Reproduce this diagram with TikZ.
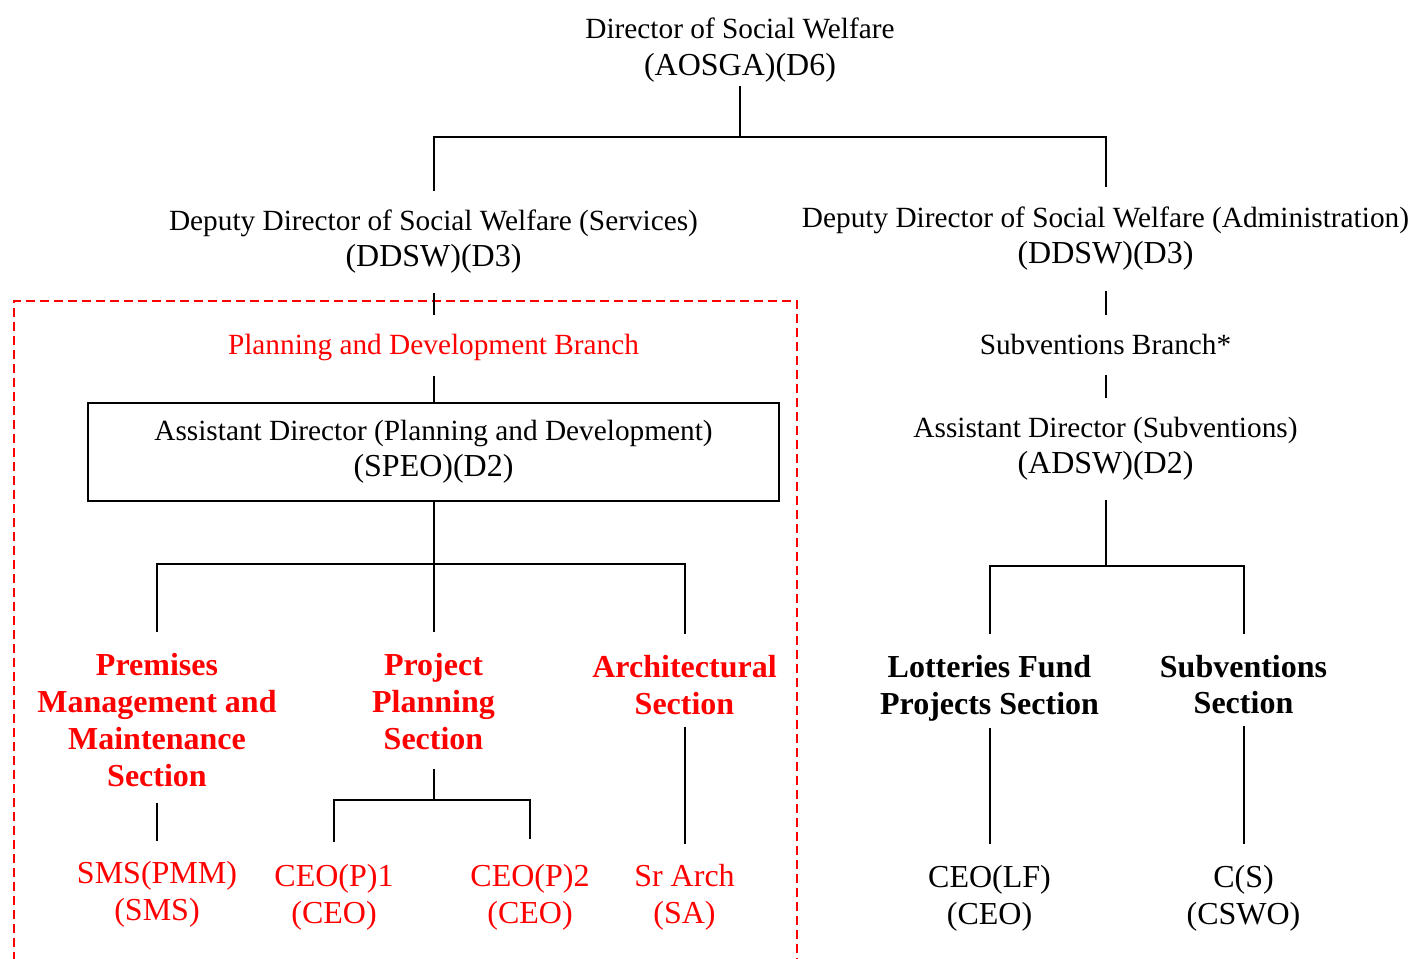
\documentclass[tikz,border=0pt]{standalone}
\usepackage{fontspec}
\setmainfont{Liberation Serif}
\newcommand\codesz{\fontsize{16pt}{18pt}\selectfont}
\begin{document}
\begin{tikzpicture}[x=0.5pt,y=-0.5pt, line width=1pt,
  txt/.style={inner sep=0pt, align=center, font=\fontsize{14.65pt}{18pt}\selectfont},
  rtxt/.style={txt, text=red},
  low/.style={inner sep=0pt, align=center, font=\fontsize{16pt}{18.5pt}\selectfont},
  rlow/.style={low, text=red},
  sec/.style={inner sep=0pt, align=center, font=\fontsize{16pt}{18.35pt}\selectfont\bfseries},
  rsec/.style={sec, text=red},
  frame/.style={draw=red, line width=1pt, dash pattern=on 4.5pt off 2.5pt},
  adbox/.style={txt, draw, line width=1pt, minimum width=345.5pt, minimum height=49pt}]
\useasboundingbox (0,0) rectangle (1411,958);
\draw[frame] (14,975) |- (797,301) -- (797,975);
% nodes
\node[txt, font=\fontsize{14.65pt}{18.5pt}\selectfont] (dir) at (740,50) {Director of Social Welfare\\{\fontsize{16pt}{18.5pt}\selectfont(AOSGA)(D6)}};
\node[txt] (dds) at (433.5,241.5) {Deputy Director of Social Welfare (Services)\\{\codesz(DDSW)(D3)}};
\node[txt] (dda) at (1105.5,238.5) {Deputy Director of Social Welfare (Administration)\\{\codesz(DDSW)(D3)}};
\node[rtxt] (pdb) at (433.5,347) {Planning and Development Branch};
\node[adbox] (adpd) at (433.5,452) {Assistant Director (Planning and Development)\\{\codesz(SPEO)(D2)}};
\node[txt] (subb) at (1105.5,344) {Subventions Branch*};
\node[txt] (ads) at (1105.5,449) {Assistant Director (Subventions)\\{\codesz(ADSW)(D2)}};
\node[rsec] (pmm) at (157,720) {Premises\\Management and\\Maintenance\\Section};
\node[rsec] (pps) at (433.5,701.5) {Project\\Planning\\Section};
\node[rsec] (arch) at (684.5,685) {Architectural\\Section};
\node[sec] (lfp) at (989.5,688) {Lotteries Fund\\Projects Section};
\node[sec] (subs) at (1243.5,684.5) {Subventions\\Section};
\node[rlow] (sms) at (157,894.5) {SMS(PMM)\\(SMS)};
\node[rlow] (ceo1) at (334,897.5) {CEO(P)1\\(CEO)};
\node[rlow] (ceo2) at (530,897) {CEO(P)2\\(CEO)};
\node[rlow] (sra) at (684.5,897.3) {Sr Arch\\(SA)};
\node[low] (ceolf) at (989.5,898) {CEO(LF)\\(CEO)};
\node[low] (cs) at (1243.5,898) {C(S)\\(CSWO)};
% bus points
\coordinate (b1) at (740,137);
\coordinate (b2) at (433.5,564);
\coordinate (b3) at (433.5,800);
\coordinate (b4) at (1105.5,566);
% connectors
\draw[shorten <=1.25pt] (dir.south) -- (b1);
\draw[shorten <=8.8pt] (dds.north) |- (b1);
\draw[shorten <=9.3pt] (dda.north) |- (b1);
\draw[shorten <=9.25pt, shorten >=8.8pt] (dds.south) -- (pdb.north);
\draw[shorten <=7.5pt] (pdb.south) -- (adpd.north);
\draw (adpd.south) -- (b2);
\draw[shorten <=10.25pt] (pmm.north) |- (b2);
\draw[shorten <=10.25pt] (arch.north) |- (b2);
\draw[shorten >=10.25pt] (b2) -- (pps.north);
\draw[shorten <=7.75pt, shorten >=9.8pt] (pmm.south) -- (sms.north);
\draw[shorten <=9.25pt] (pps.south) -- (b3);
\draw[shorten <=10.8pt] (ceo1.north) |- (b3);
\draw[shorten <=11.8pt] (ceo2.north) |- (b3);
\draw[shorten <=5.75pt, shorten >=9.8pt] (arch.south) -- (sra.north);
\draw[shorten <=9.75pt, shorten >=9pt] (dda.south) -- (subb.north);
\draw[shorten <=10pt, shorten >=9.3pt] (subb.south) -- (ads.north);
\draw[shorten <=9.25pt] (ads.south) -- (b4);
\draw[shorten <=10.25pt] (lfp.north) |- (b4);
\draw[shorten <=9.75pt] (subs.north) |- (b4);
\draw[shorten <=3.25pt, shorten >=9.8pt] (lfp.south) -- (ceolf.north);
\draw[shorten <=5.25pt, shorten >=9.8pt] (subs.south) -- (cs.north);
\end{tikzpicture}
\end{document}
